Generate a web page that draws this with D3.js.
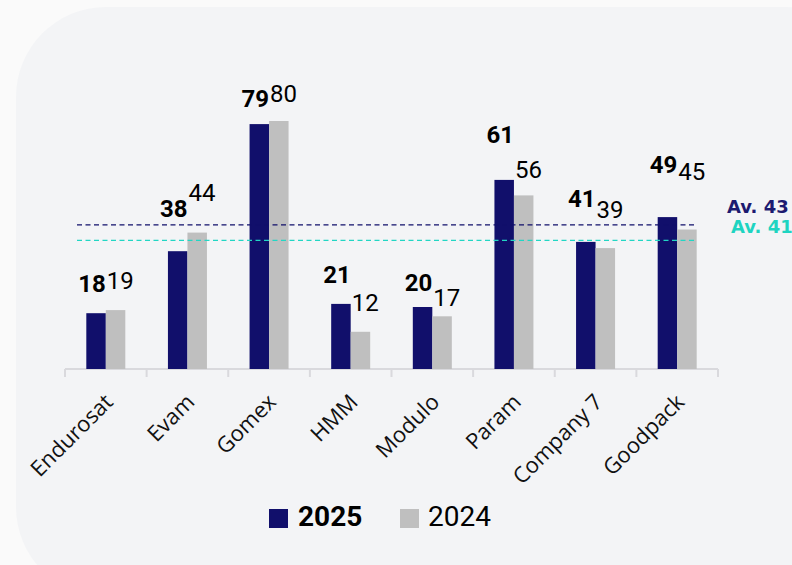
<!DOCTYPE html>
<html>
<head>
<meta charset="utf-8">
<script src="https://cdn.jsdelivr.net/npm/d3@7"></script>
<style>
  html, body { margin: 0; padding: 0; background: #fafafa; }
  svg { display: block; }
</style>
</head>
<body>
<script>
// data
const companies = ['Endurosat', 'Evam', 'Gomex', 'HMM', 'Modulo', 'Param', 'Company 7', 'Goodpack'];
const series = ['2025', '2024'];
const values2025 = [18, 38, 79, 21, 20, 61, 41, 49];
const values2024 = [19, 44, 80, 12, 17, 56, 39, 45];
const avgLabels = ['Av. 43', 'Av. 41'];
const avgLevels = [46.5, 41.5];   // where the dashed lines sit on the value scale

// hand placed label lift above each bar (px)
const lift2025 = [21, 34, 17, 21, 16, 37, 35, 44];
const lift2024 = [21, 32, 19, 21, 10, 17, 30, 50];

const W = 792, H = 565;
const navy = '#110f6b', grey = '#bfbfbf', teal = '#22d6c4';

const svg = d3.select('body').append('svg')
    .attr('width', W)
    .attr('height', H);

svg.append('rect')
    .attr('x', 16).attr('y', 7)
    .attr('width', 860).attr('height', 590)
    .attr('rx', 90).attr('ry', 90)
    .attr('fill', '#f3f4f6');

const x = d3.scaleBand()
    .domain(companies)
    .range([65, 718]);

const xs = d3.scaleBand()
    .domain(series)
    .range([0, 39]);

const y = d3.scaleLinear()
    .domain([0, 100])
    .range([369, 59]);

const off = (x.bandwidth() - xs.range()[1]) / 2;

// axis
const axis = svg.append('g');
axis.append('line')
    .attr('x1', x.range()[0]).attr('x2', x.range()[1])
    .attr('y1', y(0)).attr('y2', y(0))
    .attr('stroke', '#d9d9dd').attr('stroke-width', 2);
axis.selectAll('.tick')
    .data(companies.map(c => x(c)).concat([x.range()[1]]))
    .enter().append('line')
    .attr('x1', d => d).attr('x2', d => d)
    .attr('y1', y(0)).attr('y2', y(0) + 8)
    .attr('stroke', '#d9d9dd').attr('stroke-width', 2);

// bars
const rows = companies.map((c, i) => ({c, i, v25: values2025[i], v24: values2024[i]}));

const g = svg.append('g');
g.selectAll('.b25').data(rows).enter().append('rect')
    .attr('x', d => x(d.c) + off + xs('2025'))
    .attr('y', d => y(d.v25))
    .attr('width', xs.bandwidth())
    .attr('height', d => y(0) - y(d.v25))
    .attr('fill', navy);
g.selectAll('.b24').data(rows).enter().append('rect')
    .attr('x', d => x(d.c) + off + xs('2024'))
    .attr('y', d => y(d.v24))
    .attr('width', xs.bandwidth())
    .attr('height', d => y(0) - y(d.v24))
    .attr('fill', grey);

// average lines
const avgColors = [navy, teal];
svg.selectAll('.avg').data(avgLevels).enter().append('line')
    .attr('x1', 77).attr('x2', 697)
    .attr('y1', d => y(d)).attr('y2', d => y(d))
    .attr('stroke', (d, i) => avgColors[i])
    .attr('stroke-width', 1.3)
    .attr('stroke-dasharray', '5,3.5');

svg.selectAll('.avgl').data(avgLabels).enter().append('text')
    .attr('x', (d, i) => i ? 731 : 727)
    .attr('y', (d, i) => i ? 233 : 213)
    .attr('fill', (d, i) => i ? '#1ed4c1' : '#1c1a70')
    .attr('font-family', 'DejaVu Sans')
    .attr('font-weight', 700)
    .attr('font-size', 18)
    .text(d => d);

// value labels
g.selectAll('.l25').data(rows).enter().append('text')
    .attr('x', d => x(d.c) + off + xs('2025') + xs.bandwidth())
    .attr('y', d => y(d.v25) - lift2025[d.i])
    .attr('text-anchor', 'end')
    .attr('font-family', 'Roboto')
    .attr('font-weight', 700)
    .attr('font-size', 24)
    .attr('fill', '#000')
    .text(d => d.v25);
g.selectAll('.l24').data(rows).enter().append('text')
    .attr('x', d => x(d.c) + off + xs('2024') + 1)
    .attr('y', d => y(d.v24) - lift2024[d.i])
    .attr('font-family', 'Roboto')
    .attr('font-weight', 400)
    .attr('font-size', 24)
    .attr('fill', '#000')
    .text(d => d.v24);

// category labels
svg.selectAll('.cat').data(companies).enter().append('text')
    .attr('transform', d => `translate(${x(d) + x.bandwidth() / 2 + 3},${398}) rotate(-45)`)
    .attr('text-anchor', 'end')
    .attr('dy', '0.35em')
    .attr('font-family', 'Open Sans')
    .attr('font-size', 22)
    .attr('fill', '#111')
    .text(d => d);

// legend
const legendX = [269, 400];
const leg = svg.selectAll('.leg').data(series).enter().append('g')
    .attr('transform', (d, i) => `translate(${legendX[i]},509)`);
leg.append('rect')
    .attr('width', 19).attr('height', 19)
    .attr('fill', (d, i) => i ? grey : navy);
leg.append('text')
    .attr('x', (d, i) => i ? 28 : 29)
    .attr('y', 17)
    .attr('font-family', 'Roboto')
    .attr('font-weight', (d, i) => i ? 400 : 700)
    .attr('font-size', 28)
    .attr('fill', '#000')
    .text(d => d);
</script>
</body>
</html>
